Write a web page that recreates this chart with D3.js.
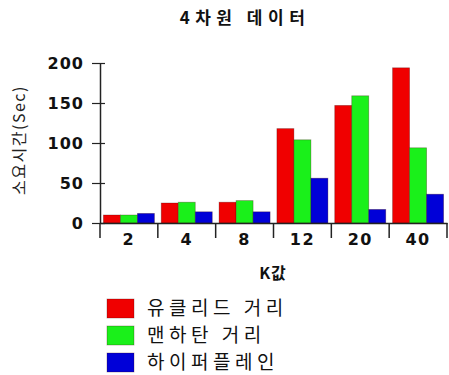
<!DOCTYPE html>
<html>
<head>
<meta charset="utf-8">
<script src="https://cdn.jsdelivr.net/npm/d3@7"></script>
<style>
    body { margin: 0; background: #ffffff; }
    svg { display: block; }
</style>
</head>
<body>
<svg id="chart" width="449" height="375"></svg>
<script>
// Data
var kValues = ['2', '4', '8', '12', '20', '40'];
var seriesNames = ['유클리드 거리', '맨하탄 거리', '하이퍼플레인'];
var euclid = [10, 25, 26, 118, 147, 194];
var manhattan = [10, 26, 28, 104, 159, 94];
var hyperplane = [12, 14, 14, 56, 17, 36];
var yTicks = [0, 50, 100, 150, 200];
var colours = ['#f00000', '#1af01a', '#0000d8'];

var allSeries = [euclid, manhattan, hyperplane];

var svg = d3.select('#chart');
var fontStack = '"Noto Sans CJK KR", "DejaVu Sans", sans-serif';
var numFont = '"DejaVu Sans", "Liberation Sans", sans-serif';

// Scales
var x = d3.scaleBand()
    .domain(kValues)
    .range([100, 447])
    .paddingInner(0)
    .paddingOuter(0);

var inner = d3.scaleBand()
    .domain(d3.range(seriesNames.length))
    .range([0, x.bandwidth()])
    .paddingOuter(0.2)
    .paddingInner(0);

var y = d3.scaleLinear()
    .domain([0, 200])
    .range([223, 63]);

// Title
svg.append('text')
    .attr('x', 245)
    .attr('y', 24)
    .attr('text-anchor', 'middle')
    .attr('font-family', fontStack)
    .attr('font-weight', 'bold')
    .attr('font-size', 17)
    .attr('letter-spacing', 5.5)
    .attr('fill', '#111')
    .text('4차원  데이터');

// Bars
var groups = svg.selectAll('.group')
    .data(kValues)
    .enter()
    .append('g')
    .attr('class', 'group')
    .attr('transform', function(d) { return 'translate(' + x(d) + ',0)'; });

groups.selectAll('rect')
    .data(function(d, i) {
        return allSeries.map(function(s, j) { return {s: j, v: s[i]}; });
    })
    .enter()
    .append('rect')
    .attr('x', function(d) { return inner(d.s); })
    .attr('y', function(d) { return y(d.v); })
    .attr('width', inner.bandwidth())
    .attr('height', function(d) { return y(0) - y(d.v); })
    .attr('fill', function(d) { return colours[d.s]; })
    .attr('stroke', 'rgba(60,0,0,0.35)')
    .attr('stroke-width', 0.8);

// Y axis
var yAxis = svg.append('g')
    .attr('transform', 'translate(100,0)')
    .call(d3.axisLeft(y).tickValues(yTicks).tickSizeInner(8).tickSizeOuter(0).tickPadding(6));
yAxis.select('.domain').attr('stroke', '#222').attr('stroke-width', 1.5);
yAxis.selectAll('.tick line').attr('stroke', '#222').attr('stroke-width', 1.2).attr('x2', 5).attr('x1', -8);
yAxis.selectAll('.tick text')
    .attr('font-family', numFont)
    .attr('font-weight', 'bold')
    .attr('font-size', 16)
    .attr('letter-spacing', 1)
    .attr('fill', '#111')
    .attr('x', -16);

// vertical axis line extends down to tick bottom
svg.append('line')
    .attr('x1', 100).attr('x2', 100)
    .attr('y1', y(0)).attr('y2', y(0) + 15)
    .attr('stroke', '#222').attr('stroke-width', 1.5);

// X axis
var xAxis = svg.append('g')
    .attr('transform', 'translate(0,' + y(0) + ')')
    .call(d3.axisBottom(x).tickSize(0).tickPadding(12));
xAxis.select('.domain').attr('stroke', '#222').attr('stroke-width', 1.5);
xAxis.selectAll('.tick text')
    .attr('font-family', numFont)
    .attr('font-weight', 'bold')
    .attr('font-size', 16)
    .attr('letter-spacing', 1.5)
    .attr('fill', '#111')
    .attr('dy', '0.6em');

// separators between groups
xAxis.selectAll('.sep')
    .data(kValues)
    .enter()
    .append('line')
    .attr('x1', function(d) { return x(d) + x.bandwidth(); })
    .attr('x2', function(d) { return x(d) + x.bandwidth(); })
    .attr('y1', 0)
    .attr('y2', 15)
    .attr('stroke', '#222')
    .attr('stroke-width', 1.5);

// Axis titles
svg.append('text')
    .attr('transform', 'translate(25,140) rotate(-90)')
    .attr('text-anchor', 'middle')
    .attr('font-family', fontStack)
    .attr('font-size', 16)
    .attr('letter-spacing', 1.5)
    .attr('fill', '#222')
    .text('소요시간(Sec)');

svg.append('text')
    .attr('x', 273)
    .attr('y', 279)
    .attr('text-anchor', 'middle')
    .attr('font-family', fontStack)
    .attr('font-weight', 'bold')
    .attr('font-size', 16)
    .attr('letter-spacing', 1)
    .attr('fill', '#111')
    .text('K값');

// Legend
var legend = svg.selectAll('.legend')
    .data(seriesNames)
    .enter()
    .append('g')
    .attr('class', 'legend')
    .attr('transform', function(d, i) { return 'translate(107,' + (299 + i * 27) + ')'; });

legend.append('rect')
    .attr('width', 27)
    .attr('height', 19)
    .attr('fill', function(d, i) { return colours[i]; })
    .attr('stroke', 'rgba(60,0,0,0.35)')
    .attr('stroke-width', 0.8);

legend.append('text')
    .attr('x', 40)
    .attr('y', 15.5)
    .attr('font-family', fontStack)
    .attr('font-size', 19)
    .attr('letter-spacing', 4.5)
    .attr('fill', '#111')
    .text(function(d) { return d; });
</script>
</body>
</html>
